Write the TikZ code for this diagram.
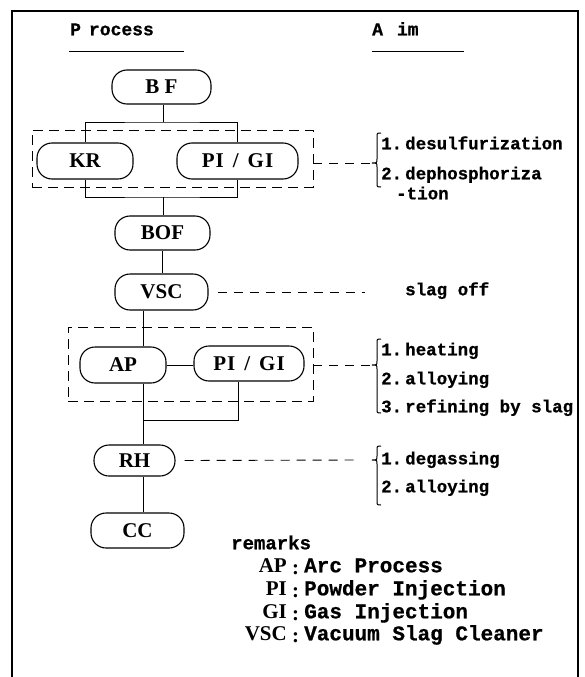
\documentclass[tikz,border=0pt]{standalone}
\usepackage{fontspec}
\setmainfont{Liberation Serif}
\newfontfamily\monofam{Liberation Mono}[BoldFeatures={FakeBold=0.7}]
\newcommand\aimfont{\monofam\bfseries\fontsize{17.5}{20}\selectfont}
\newcommand\headfont{\monofam\bfseries\fontsize{18}{20}\selectfont}
\newcommand\procfont{\bfseries\fontsize{21}{24}\selectfont}
\newcommand\remfont{\monofam\bfseries\fontsize{21}{24}\selectfont}
\begin{document}
\begin{tikzpicture}[x=1pt,y=-1pt,
  proc/.style={draw, line width=1.1pt, rounded corners=15pt, inner sep=0pt, font=\procfont},
  dbox/.style={draw, dash pattern=on 10pt off 6pt, line width=0.9pt, inner sep=0pt},
  conn/.style={line width=0.9pt},
  dconn/.style={line width=0.9pt, dash pattern=on 9pt off 7pt},
  aimtxt/.style={anchor=mid west, inner sep=0pt, font=\aimfont},
  brace/.style={line width=1pt},
  abbr/.style={anchor=mid east, inner sep=0pt, font=\procfont},
  desc/.style={anchor=mid west, inner sep=0pt, font=\remfont}]
\useasboundingbox (0,0) rectangle (584,677);
% frame
\draw[line width=2pt] (12,677) -- (12,11.5) -- (577.5,11.5) -- (577.5,677);
% headings
\node[anchor=mid west, inner sep=0pt, font=\headfont] (hproc) at (70,33) {P\kern8pt rocess};
\node[anchor=mid west, inner sep=0pt, font=\headfont] (haim) at (372,33) {A\kern14pt im};
\draw[line width=1pt] (69,52) -- (184,52);
\draw[line width=1pt] (372,52) -- (464,52);
% dashed groups
\node[dbox, minimum width=281pt, minimum height=57pt] (box1) at (172.5,158.5) {};
\node[dbox, minimum width=245pt, minimum height=74pt] (box2) at (190.5,364) {};
% process nodes
\node[proc, minimum width=99pt, minimum height=34pt] (BF) at (161.5,87) {B F};
\node[proc, minimum width=96pt, minimum height=36pt] (KR) at (85,161) {KR};
\node[proc, minimum width=121pt, minimum height=36pt] (PIa) at (237.5,161) {P\kern1pt I\kern9pt/\kern9pt G\kern1pt I};
\node[proc, minimum width=95pt, minimum height=34pt] (BOF) at (162.5,233) {BOF};
\node[proc, minimum width=93pt, minimum height=36pt] (VSC) at (161.5,292) {VSC};
\node[proc, minimum width=86pt, minimum height=36pt] (AP) at (123,365) {AP};
\node[proc, minimum width=110pt, minimum height=35pt] (PIb) at (249,363.5) {P\kern1pt I\kern9pt/\kern9pt G\kern1pt I};
\node[proc, minimum width=81pt, minimum height=31pt] (RH) at (134.5,460.5) {RH};
\node[proc, minimum width=93pt, minimum height=35pt] (CC) at (137.5,530.5) {CC};
% junctions
\coordinate (j1) at (163,122);
\coordinate (j2) at (163,197);
\coordinate (k) at (143,0);
\coordinate (j3) at (143,420);
\coordinate (j4) at (238,420);
% connectors
\draw[conn] (BF.south -| j1) -- (j1);
\draw[conn] (KR.north) |- (j1) -| (PIa.north);
\draw[conn] (KR.south) |- (j2) -| (PIa.south);
\draw[conn] (j2) -- (BOF.north -| j2);
\draw[conn] (BOF.south) -- (BOF.south |- VSC.north);
\draw[conn] (VSC.south -| k) -- (AP.north -| k);
\draw[conn] (AP.east) -- (AP.east -| PIb.west);
\draw[conn] (AP.south -| j3) -- (j3) -- (j4) -- (PIb.south -| j4);
\draw[conn] (j3) -- (RH.north -| j3);
\draw[conn] (RH.south -| j3) -- (CC.north -| j3);
% dashed leaders
\coordinate (t1) at (372,163);
\coordinate (t2) at (372,365);
\coordinate (e1) at (365,292);
\coordinate (e2) at (356,460);
\draw[dconn] (box1.east |- t1) -- (t1);
\draw[dconn] (box2.east |- t2) -- (t2);
\draw[dconn] ([xshift=9pt]VSC.east) -- (e1);
\draw[dconn] ([xshift=9pt]RH.east) -- (e2);
% braces
\draw[brace] (381,133) .. controls (377,133) .. (377,137) -- (377,159) .. controls (377,163) .. (372,163) .. controls (377,163) .. (377,167) -- (377,183) .. controls (377,187) .. (381,187);
\draw[brace] (381,339) .. controls (377,339) .. (377,343) -- (377,361) .. controls (377,365) .. (372,365) .. controls (377,365) .. (377,369) -- (377,409) .. controls (377,413) .. (381,413);
\draw[brace] (381,446) .. controls (377,446) .. (377,450) -- (377,456) .. controls (377,460) .. (372,460) .. controls (377,460) .. (377,464) -- (377,501) .. controls (377,505) .. (381,505);
% aims
\node[aimtxt] (a1) at (381,147) {1.\kern3pt desulfurization};
\node[aimtxt] (a2) at (381,177) {2.\kern3pt dephosphoriza};
\node[aimtxt] (a3) at (396,197) {-tion};
\node[aimtxt] (a4) at (405,293) {slag off};
\node[aimtxt] (a5) at (381,353) {1.\kern3pt heating};
\node[aimtxt] (a6) at (381,382) {2.\kern3pt alloying};
\node[aimtxt] (a7) at (381,410) {3.\kern3pt refining by slag};
\node[aimtxt] (a8) at (381,462) {1.\kern3pt degassing};
\node[aimtxt] (a9) at (381,490) {2.\kern3pt alloying};
% remarks
\node[anchor=mid west, inner sep=0pt, font=\monofam\bfseries\fontsize{19}{22}\selectfont] (rem) at (231,547) {remarks};
\node[abbr] (r1) at (287,570) {AP};
\node[abbr] (r2) at (287,593) {PI};
\node[abbr] (r3) at (287,616) {GI};
\node[abbr] (r4) at (287,638) {VSC};
\foreach \yy/\nm in {570/c1,593/c2,616/c3,638/c4}
  \node[inner sep=0pt, font=\procfont] (\nm) at (295.5,\yy) {:};
\node[desc] (d1) at (304,570) {Arc Process};
\node[desc] (d2) at (304,593) {Powder Injection};
\node[desc] (d3) at (304,616) {Gas Injection};
\node[desc] (d4) at (304,638) {Vacuum Slag Cleaner};
\end{tikzpicture}
\end{document}
